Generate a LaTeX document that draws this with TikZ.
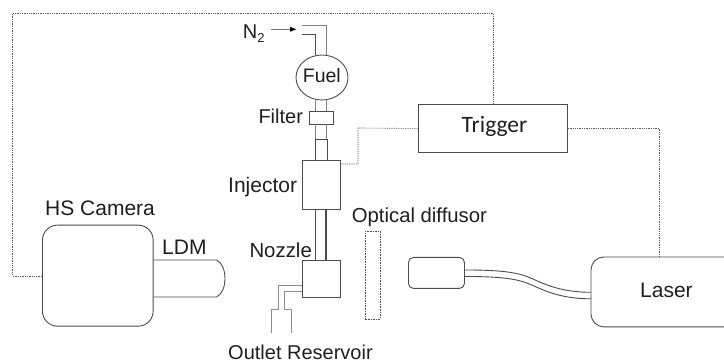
\documentclass[tikz,border=0pt]{standalone}
\usepackage{fontspec}
\usetikzlibrary{shapes.geometric,arrows.meta,calc}
\setmainfont{Liberation Sans}
\newfontfamily\trigfont{Carlito}
\definecolor{ln}{gray}{0.3}
\definecolor{txt}{gray}{0.12}
\tikzset{
  x=1pt,y=-1pt,
  lab/.style={font=\fontsize{20}{24}\selectfont,text=txt,inner sep=0pt,anchor=base west},
  labbig/.style={lab,font=\fontsize{21}{24}\selectfont},
  solidbox/.style={draw=ln,line width=0.9pt,fill=white,inner sep=0pt,anchor=north west},
  roundbox/.style={solidbox,rounded corners=#1},
  sig/.style={draw=black!65,dash pattern=on 1.3pt off 1pt,line width=0.6pt},
  pipe/.style={draw=black!50,line width=0.9pt},
  pipedark/.style={draw=ln,line width=1pt},
  fiber/.style={draw=ln,line width=0.9pt},
}
\begin{document}
\begin{tikzpicture}
\useasboundingbox (0,0) rectangle (724,363);
\fill[white] (0,0) rectangle (724,363);
% free corners
\coordinate (tl) at (12.7,13.3);
\coordinate (tr) at (493,13.3);
\coordinate (n2s) at (270.7,29.3);
\coordinate (n2e) at (296.7,29.3);
% boxes
\node[solidbox,minimum width=149pt,minimum height=48pt] (trigger) at (418,104) {};
\node[ellipse,draw=ln,line width=0.9pt,fill=white,inner sep=0pt,minimum width=52pt,minimum height=45pt] (fuel) at (322,77.5) {};
\node[solidbox,minimum width=24pt,minimum height=13.3pt] (filter) at (308.7,111) {};
\node[solidbox,minimum width=10.6pt,minimum height=20.7pt,draw=none,fill=none] (stub) at (315.7,139.3) {};
\node[solidbox,minimum width=38pt,minimum height=49pt] (injector) at (301.7,160) {};
\node[solidbox,minimum width=38pt,minimum height=36.7pt] (nozzle) at (301.7,260) {};
\node[solidbox,draw=black!70,dash pattern=on 1.6pt off 1pt,fill=none,line width=0.7pt,minimum width=15pt,minimum height=88pt] (diffusor) at (365,230.7) {};
\node[roundbox=15pt,minimum width=110.7pt,minimum height=101pt] (camera) at (42,224.7) {};
\node[roundbox=5pt,minimum width=56pt,minimum height=31pt] (head) at (408,257) {};
\node[solidbox,draw=none,fill=none,minimum width=133pt,minimum height=69pt] (laser) at (591,257) {};
\draw[draw=ln,line width=0.9pt,rounded corners=13pt] (laser.north east) -- (laser.north west) -- (laser.south west) -- (laser.south east);
% signal lines
\draw[sig] (camera.west |- 0,276) -| (tl) -- (tr) -- (trigger.north -| tr);
\draw[sig] (trigger.west) -- (358,128) |- (injector.east |- 0,164);
\draw[sig] (trigger.east) -| (laser.north -| 659,0);
% fuel line
\draw[pipe] (302,25.7) -- (326.7,25.7) -- (326.7,55);
\draw[pipedark] (302,35) -- (315.7,35) -- (315.7,55);
\draw[pipe] (315.7,99.5) -- (315.7,111) (326.7,99.5) -- (326.7,111);
\draw[pipe] (315.7,124.3) -- (315.7,139.3) (326.3,124.3) -- (326.3,139.3);
\draw[pipedark] (stub.south west) -- (stub.north west) -- (stub.north east) -- (stub.south east);
\draw[pipedark,line width=1.1pt] (315.7,209) -- (315.7,260);
\draw[pipedark,line width=1.3pt] (326,209) -- (326,260);
% outlet
\draw[pipe,draw=black!45] (nozzle.west |- 0,285) -- (278.7,285) -- (278.7,309.3) -- (271,309.3) -- (271,333.3);
\draw[pipe,draw=black!45] (nozzle.west |- 0,291.7) -- (284,291.7) -- (284,309.3) -- (291.3,309.3) -- (291.3,333.3);
% N2 arrow
\draw[draw=black!55,line width=0.6pt,-{Latex[length=6.5pt,width=5pt,black]}] (n2s) -- (n2e);
% LDM
\draw[draw=ln,line width=0.9pt] (camera.east |- 0,260) -- (216.7,260) .. controls (222,263) and (225,270) .. (225,278.5) .. controls (225,287) and (222,294) .. (216.7,297) -- (camera.east |- 0,297);
% fiber
\draw[fiber] (head.east |- 0,270) .. controls (490,270) and (510,271) .. (524,275.5) .. controls (540,281) and (555,292.3) .. (laser.west |- 0,292.3);
\draw[fiber] (head.east |- 0,276.5) .. controls (490,276.5) and (510,277.5) .. (524,282) .. controls (540,287.5) and (555,298.8) .. (laser.west |- 0,298.8);
% labels
\node[lab] at (242.7,38.3) {N\raisebox{-4.2pt}{\fontsize{13}{15}\selectfont 2}};
\node[lab,font=\fontsize{19.5}{24}\selectfont] at (302.7,83) {Fuel};
\node[lab] at (258.3,124) {Filter};
\node[labbig] at (228,192.5) {Injector};
\node[lab,font=\fontsize{20.4}{24}\selectfont] at (249.3,257.3) {Nozzle};
\node[lab,font=\fontsize{20.3}{24}\selectfont] at (351.7,222.7) {Optical diffusor};
\node[lab] at (228,360) {Outlet Reservoir};
\node[labbig] at (45,215.3) {HS Camera};
\node[labbig] at (162,255) {LDM};
\node[lab,font=\fontsize{23.5}{26}\selectfont\trigfont] at (461.5,133) {Trigger};
\node[labbig] at (640,298) {Laser};
\end{tikzpicture}
\end{document}
